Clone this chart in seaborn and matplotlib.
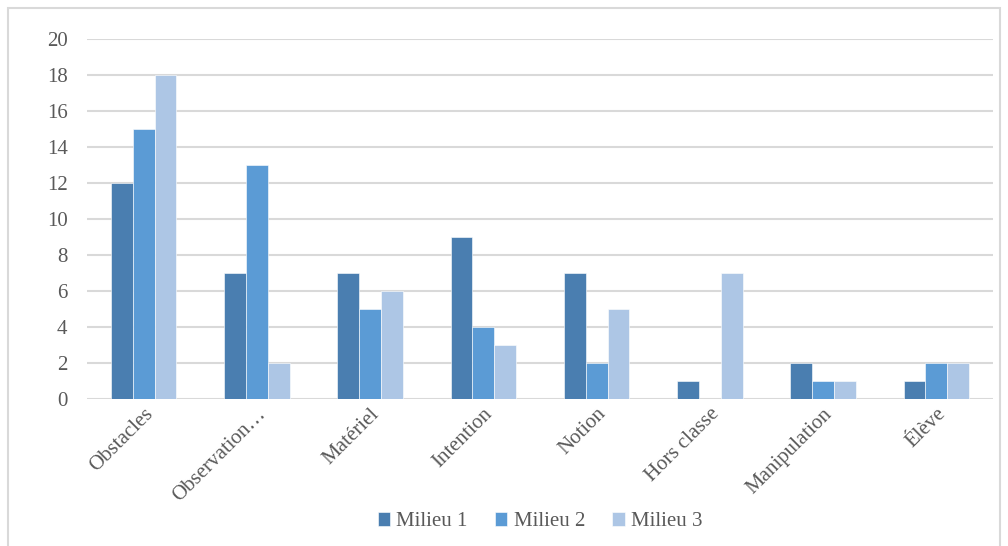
import numpy as np
import pandas as pd
import seaborn as sns
from matplotlib import pyplot as plt
from matplotlib.patches import Rectangle

categories = ["Obstacles", "Observation…", "Matériel", "Intention", "Notion",
              "Hors classe", "Manipulation", "Élève"]
milieu_1 = [12, 7, 7, 9, 7, 1, 2, 1]
milieu_2 = [15, 13, 5, 4, 2, 0, 1, 2]
milieu_3 = [18, 2, 6, 3, 5, 7, 1, 2]
series_names = ["Milieu 1", "Milieu 2", "Milieu 3"]
colors = ["#4a7eb0", "#5b9bd5", "#adc6e5"]

df = pd.DataFrame({"categorie": categories * 3,
                   "valeur": milieu_1 + milieu_2 + milieu_3,
                   "serie": np.repeat(series_names, len(categories))})

sns.set_theme(style="white")
plt.rcParams['font.family'] = ['Liberation Serif', 'DejaVu Serif']

fig = plt.figure(figsize=(10.08, 5.46), dpi=100)
ax = fig.add_axes([87 / 1008, 1 - 399 / 546, 906 / 1008, 360 / 546])

sns.barplot(data=df, x="categorie", y="valeur", hue="serie", palette=colors,
            width=0.58, gap=0, ax=ax, saturation=1, zorder=3,
            edgecolor="white", linewidth=0.4)

ax.set_ylim(0, 20)
ax.set_xlim(-0.5, len(categories) - 0.5)
ax.set_yticks(range(0, 21, 2))
ax.yaxis.grid(True, color="#d9d9d9", linewidth=1.5, zorder=0)
ax.set_axisbelow(True)
for s in ax.spines.values():
    s.set_visible(False)
ax.set_xlabel("")
ax.set_ylabel("")
ax.tick_params(axis="y", labelsize=15, colors="#595959", length=0, pad=14)
ax.tick_params(axis="x", labelsize=15, colors="#595959", length=0, pad=4)
plt.setp(ax.get_xticklabels(), rotation=45, ha="right", rotation_mode="anchor")

leg = ax.legend(loc="lower center", bbox_to_anchor=(0.5, -0.42), ncol=3, frameon=False,
                fontsize=15, handlelength=0.6, handleheight=0.6, handletextpad=0.3,
                columnspacing=1.3, labelcolor="#595959")

fig.patches.append(Rectangle((8 / 1008, -0.01), 992 / 1008, 1 - 8 / 546 + 0.01,
                             transform=fig.transFigure, fill=False,
                             edgecolor="#d9d9d9", linewidth=1.5))

fig.savefig("out.png", dpi=100, facecolor="white")
